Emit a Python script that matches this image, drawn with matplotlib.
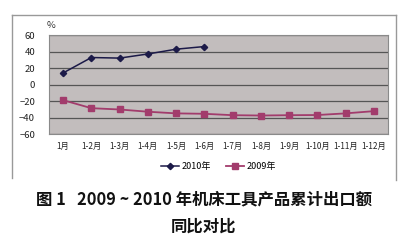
import matplotlib
matplotlib.use("Agg")
import matplotlib.pyplot as plt
from matplotlib.lines import Line2D

plt.rcParams['font.family'] = ['Noto Sans CJK SC', 'DejaVu Sans']

months = ["1月", "1-2月", "1-3月", "1-4月", "1-5月", "1-6月",
          "1-7月", "1-8月", "1-9月", "1-10月", "1-11月", "1-12月"]
y2010 = [14, 32.7, 32, 37, 42.8, 46]
y2009 = [-19, -28.7, -30.3, -33, -35, -35.5, -37.2, -37.6, -37.2, -37, -35, -32.3]
yticks = [60, 40, 20, 0, -20, -40, -60]

fig = plt.figure(figsize=(4, 2.42), dpi=100)
W, H = 400, 242
# plot area in pixels: x 49..388, y 35..134
ax = fig.add_axes([49 / W, 1 - 134 / H, (388 - 49) / W, (134 - 35) / H])
ax.set_facecolor("#c2bdbd")

x = list(range(len(months)))
ax.plot(x[:len(y2010)], y2010, color="#1c1a48", marker="D", markersize=3.2,
        linewidth=1.1, label="2010年")
ax.plot(x, y2009, color="#a23c6c", marker="s", markersize=4.2,
        linewidth=1.3, label="2009年")

ax.set_xlim(-0.5, len(months) - 0.5)
ax.set_ylim(-60, 60)
ax.set_yticks(yticks)
ax.set_yticklabels(["60", "40", "20", "0", "\u221220", "\u221240", "\u221260"])
ax.set_xticks(x)
ax.set_xticklabels(months)
ax.tick_params(axis="x", length=0, labelsize=5.9, pad=6, colors="#222222")
ax.tick_params(axis="y", length=0, labelsize=6.8, pad=10, colors="#222222")
ax.yaxis.grid(True, color="#555555", linewidth=0.9)
ax.set_axisbelow(True)
for s in ax.spines.values():
    s.set_color("#8a8a8a")
    s.set_linewidth(0.8)
ax.text(0.005, 1.05, "%", transform=ax.transAxes, fontsize=6.8, color="#333333",
        ha="center", va="bottom")

ax.legend(loc="center", bbox_to_anchor=(0.5, -0.33), ncol=2, frameon=False,
          fontsize=6.5, handlelength=2.0, columnspacing=1.6, handletextpad=0.3)

# outer frame (left, top, right)
fc = "#999999"
fig.add_artist(Line2D([12 / W, 12 / W], [1 - 15 / H, 1 - 178 / H], color=fc, lw=1.0))
fig.add_artist(Line2D([12 / W, 396 / W], [1 - 15 / H, 1 - 15 / H], color=fc, lw=1.0))
fig.add_artist(Line2D([396 / W, 396 / W], [1 - 15 / H, 1 - 180 / H], color=fc, lw=1.0))

fig.text(204 / W, 1 - 199 / H, "图 1   2009 ~ 2010 年机床工具产品累计出口额",
         ha="center", va="center", fontsize=11.8, fontweight="bold", color="#111111")
fig.text(204 / W, 1 - 227 / H, "同比对比",
         ha="center", va="center", fontsize=11.8, fontweight="bold", color="#111111")

fig.savefig("out.png", dpi=100)
